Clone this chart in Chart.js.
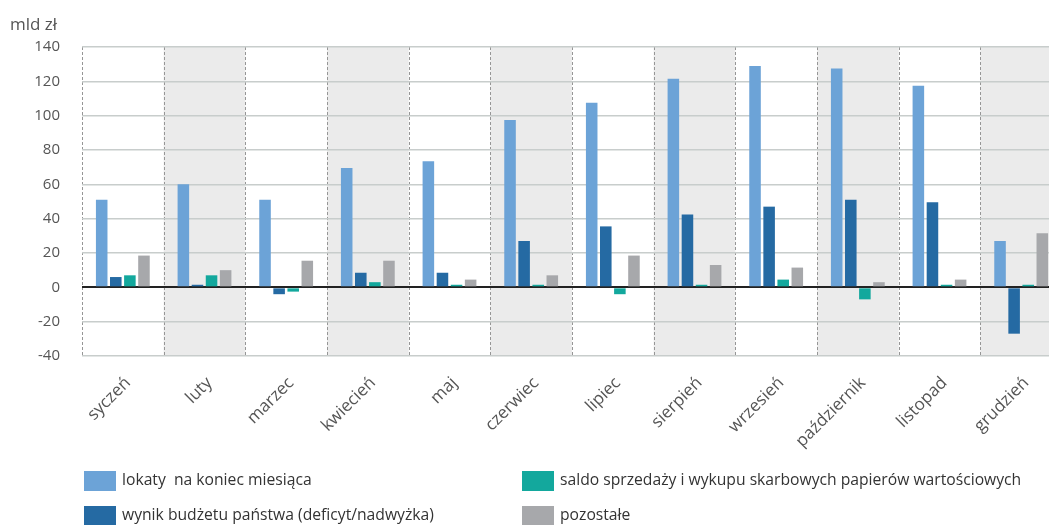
<!DOCTYPE html>
<html lang="pl">
<head>
<meta charset="utf-8">
<script src="https://cdn.jsdelivr.net/npm/chart.js@4.4.1/dist/chart.umd.min.js"></script>
<style>
  html, body { margin: 0; padding: 0; background: #fff; overflow: hidden; width: 1049px; height: 525px; }
  #wrap { position: absolute; left: 0; top: 0; width: 1062px; height: 525px; }
  #unit { position: absolute; left: 10px; top: 12px; font: 17px "Open Sans", sans-serif; color: #555; }
  .leg { position: absolute; font: 16px "Open Sans", sans-serif; color: #333; line-height: 20px; white-space: pre; }
  .leg i { position: absolute; left: 0; top: 2px; width: 32px; height: 20px; }
  .leg span { position: absolute; left: 38px; top: 0; display: inline-block; transform: scaleX(0.98); transform-origin: 0 0; }
</style>
</head>
<body>
<div id="wrap"><canvas id="c" width="1062" height="525"></canvas></div>
<div id="unit">mld zł</div>
<div id="legend"></div>
<script>
// Months
const months = ['syczeń', 'luty', 'marzec', 'kwiecień', 'maj', 'czerwiec', 'lipiec', 'sierpień', 'wrzesień', 'październik', 'listopad', 'grudzień'];

// Series (mld zł)
const lokaty    = [51, 60, 51, 69.5, 73.5, 97.5, 107.5, 121.5, 129, 127.5, 117.5, 27];
const wynik     = [6, 1.5, -4, 8.5, 8.5, 27, 35.5, 42.5, 47, 51, 49.5, -27];
const saldo     = [7, 7, -2.5, 3, 1.5, 1.5, -4, 1.5, 4.5, -7, 1.5, 1.5];
const pozostale = [18.5, 10, 15.5, 15.5, 4.5, 7, 18.5, 13, 11.5, 3, 4.5, 31.5];

const seriesNames = [
  'lokaty  na koniec miesiąca',
  'wynik budżetu państwa (deficyt/nadwyżka)',
  'saldo sprzedaży i wykupu skarbowych papierów wartościowych',
  'pozostałe'
];
const colors = ['#6ca3d7', '#256aa3', '#13a89d', '#a7a8ab'];

// Y axis range
const yMin = -40, yMax = 140, yStep = 20;

// Alternating month bands and dashed separators behind the bars
const bandsPlugin = {
  id: 'bands',
  beforeDraw(chart) {
    const { ctx, chartArea, scales } = chart;
    const x = scales.x;
    const n = months.length;
    const w = (x.getPixelForValue(n - 1) - x.getPixelForValue(0)) / (n - 1);
    ctx.save();
    for (let i = 0; i < n; i++) {
      const left = x.getPixelForValue(i) - w / 2;
      if (i % 2 === 1) {
        ctx.fillStyle = '#ebebeb';
        ctx.fillRect(left, chartArea.top, w, chartArea.bottom - chartArea.top);
      }
    }
    ctx.strokeStyle = '#969696';
    ctx.lineWidth = 1;
    ctx.setLineDash([3, 2]);
    for (let i = 0; i <= n; i++) {
      const px = Math.round(x.getPixelForValue(i) - w / 2) + 0.5;
      ctx.beginPath();
      ctx.moveTo(px, chartArea.top);
      ctx.lineTo(px, chartArea.bottom);
      ctx.stroke();
    }
    ctx.restore();
  }
};

const datasets = [lokaty, wynik, saldo, pozostale].map((d, i) => ({
  label: seriesNames[i],
  data: d,
  backgroundColor: colors[i],
  borderWidth: 0,
  categoryPercentage: 0.69,
  barPercentage: 0.82
}));

new Chart(document.getElementById('c'), {
  type: 'bar',
  data: { labels: months, datasets },
  options: {
    responsive: false,
    animation: false,
    layout: { padding: { top: 47, left: 0, right: 0, bottom: 0 } },
    plugins: { legend: { display: false }, tooltip: { enabled: false } },
    scales: {
      x: {
        grid: { display: false },
        border: { display: false },
        ticks: {
          minRotation: 45, maxRotation: 45,
          padding: 9,
          labelOffset: 5,
          color: '#555',
          font: { family: 'Open Sans', size: 17 }
        },
        afterFit(s) { s.height = 169; }
      },
      y: {
        min: yMin, max: yMax,
        border: { display: false },
        grid: {
          drawTicks: false,
          color: c => c.tick && c.tick.value === 0 ? '#222' : '#c8cdcc',
          lineWidth: c => c.tick && c.tick.value === 0 ? 2 : 1.5
        },
        ticks: {
          stepSize: yStep,
          padding: 22,
          color: '#555',
          font: { family: 'Open Sans', size: 15 }
        },
        afterFit(s) { s.width = 82; }
      }
    }
  },
  plugins: [bandsPlugin]
});

// Legend: two columns, two rows
const legendPos = [[84, 469], [84, 504], [522, 469], [522, 504]];
const legend = document.getElementById('legend');
seriesNames.forEach((name, i) => {
  const el = document.createElement('div');
  el.className = 'leg';
  el.style.left = legendPos[i][0] + 'px';
  el.style.top = legendPos[i][1] + 'px';
  const box = document.createElement('i');
  box.style.background = colors[i];
  const txt = document.createElement('span');
  txt.textContent = name;
  el.appendChild(box);
  el.appendChild(txt);
  legend.appendChild(el);
});
</script>
</body>
</html>
